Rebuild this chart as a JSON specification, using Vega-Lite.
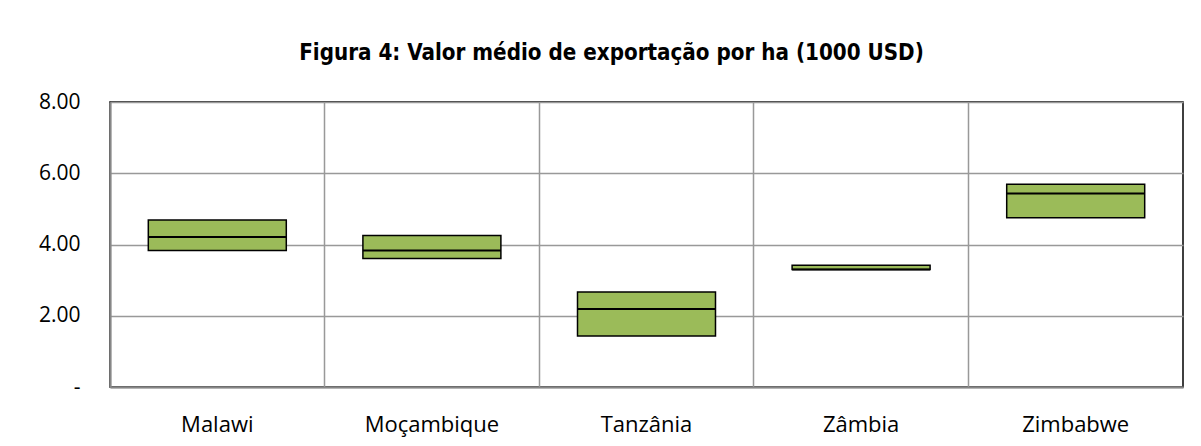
{
  "$schema": "https://vega.github.io/schema/vega-lite/v6.json",
  "width": 1073,
  "height": 285,
  "autosize": "none",
  "padding": {"left": 110, "top": 102, "right": 18, "bottom": 59},
  "background": "white",
  "title": {
    "text": "Figura 4: Valor médio de exportação por ha (1000 USD)",
    "font": "DejaVu Sans Condensed",
    "fontSize": 22.2,
    "fontWeight": "bold",
    "color": "#000000",
    "anchor": "middle",
    "dx": -35,
    "baseline": "alphabetic",
    "offset": 9
  },
  "config": {
    "view": {"stroke": "#000000", "strokeWidth": 1.5},
    "axis": {
      "labelFont": "Open Sans",
      "labelFontSize": 21,
      "labelColor": "#000000",
      "ticks": false,
      "title": null,
      "gridColor": "#999999",
      "gridWidth": 1.5,
      "gridOpacity": 1,
      "domainColor": "#878787",
      "domainWidth": 2
    }
  },
  "data": {
    "values": [
      {"pais": "Malawi", "min": 3.83, "mediana": 4.21, "max": 4.69},
      {"pais": "Moçambique", "min": 3.61, "mediana": 3.83, "max": 4.25},
      {"pais": "Tanzânia", "min": 1.43, "mediana": 2.19, "max": 2.67},
      {"pais": "Zâmbia", "min": 3.30, "mediana": 3.30, "max": 3.42},
      {"pais": "Zimbabwe", "min": 4.75, "mediana": 5.43, "max": 5.69}
    ]
  },
  "encoding": {
    "x": {
      "field": "pais",
      "type": "nominal",
      "sort": null,
      "scale": {"paddingInner": 0, "paddingOuter": 0},
      "axis": {
        "labelAngle": 0,
        "labelPadding": 27,
        "labelFontSize": 22,
        "grid": true,
        "bandPosition": 0
      }
    }
  },
  "layer": [
    {
      "mark": {"type": "bar", "width": {"band": 0.643}, "fill": "#9BBB59", "stroke": "#000000", "strokeWidth": 1.5},
      "encoding": {
        "y": {
          "field": "min",
          "type": "quantitative",
          "scale": {"domain": [0, 8], "nice": false},
          "axis": {
            "values": [0, 2, 4, 6, 8],
            "labelExpr": "datum.value == 0 ? '-' : format(datum.value, '.2f')",
            "labelPadding": 30,
            "grid": true,
            "encode": {"labels": {"dx": {"condition": {"test": "datum.value == 0", "value": -14}, "value": 0}}}
          }
        },
        "y2": {"field": "max"}
      }
    },
    {
      "mark": {"type": "tick", "color": "#000000", "size": 138, "thickness": 2, "opacity": 1},
      "encoding": {
        "y": {"field": "mediana", "type": "quantitative"}
      }
    }
  ]
}
